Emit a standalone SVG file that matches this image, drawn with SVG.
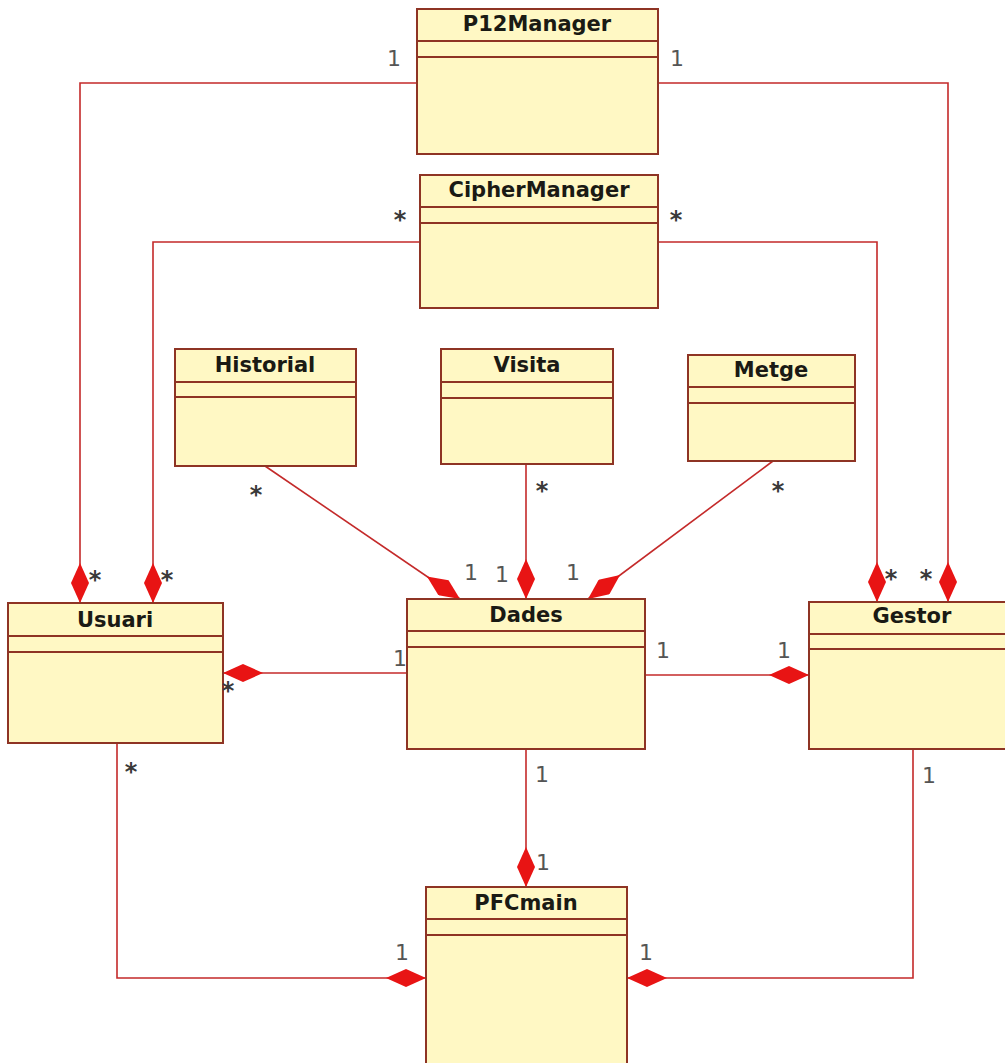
<svg xmlns="http://www.w3.org/2000/svg" width="1005" height="1063" viewBox="0 0 1005 1063">
<style>
.box{fill:#fff8c4;stroke:#8e3424;stroke-width:2}
.sep{stroke:#8e3424;stroke-width:2}
.title{font-family:"DejaVu Sans",sans-serif;font-weight:bold;font-size:21px;fill:#1a1a14;text-anchor:middle}
.conn{fill:none;stroke:#c42a2a;stroke-width:1.6;marker-end:url(#dia)}
.m{font-family:"DejaVu Sans",sans-serif;font-size:22px;fill:#555;text-anchor:middle}
.s{font-family:"DejaVu Sans",sans-serif;font-size:24px;font-weight:bold;fill:#3a3a3a;text-anchor:middle}
</style>
<defs>
<marker id="dia" viewBox="0 0 40 18" refX="40" refY="9" markerWidth="40" markerHeight="18" markerUnits="userSpaceOnUse" orient="auto">
<path d="M0,9 L20,0 L40,9 L20,18 Z" fill="#e81414"/>
</marker>
</defs>
<rect width="1005" height="1063" fill="#ffffff"/>
<g id="connectors">
<path class="conn" d="M417,83 H80 V603"/>
<path class="conn" d="M658,83 H948 V602"/>
<path class="conn" d="M420,242 H153 V603"/>
<path class="conn" d="M658,242 H877 V602"/>
<path class="conn" d="M265,466 L460,599"/>
<path class="conn" d="M526,464 V599"/>
<path class="conn" d="M773,461 L588,599"/>
<path class="conn" d="M407,673 H223"/>
<path class="conn" d="M645,675 H809"/>
<path class="conn" d="M526,749 V887"/>
<path class="conn" d="M117,743 V978 H426"/>
<path class="conn" d="M913,749 V978 H627"/>
</g>
<g id="P12Manager">
<rect class="box" x="417" y="9" width="241" height="145"/>
<line class="sep" x1="417" y1="41" x2="658" y2="41"/>
<line class="sep" x1="417" y1="57" x2="658" y2="57"/>
<text class="title" x="537" y="31">P12Manager</text>
</g>
<g id="CipherManager">
<rect class="box" x="420" y="175" width="238" height="133"/>
<line class="sep" x1="420" y1="207" x2="658" y2="207"/>
<line class="sep" x1="420" y1="223" x2="658" y2="223"/>
<text class="title" x="539" y="197">CipherManager</text>
</g>
<g id="Historial">
<rect class="box" x="175" y="349" width="181" height="117"/>
<line class="sep" x1="175" y1="382" x2="356" y2="382"/>
<line class="sep" x1="175" y1="397" x2="356" y2="397"/>
<text class="title" x="265" y="372">Historial</text>
</g>
<g id="Visita">
<rect class="box" x="441" y="349" width="172" height="115"/>
<line class="sep" x1="441" y1="382" x2="613" y2="382"/>
<line class="sep" x1="441" y1="398" x2="613" y2="398"/>
<text class="title" x="527" y="372">Visita</text>
</g>
<g id="Metge">
<rect class="box" x="688" y="355" width="167" height="106"/>
<line class="sep" x1="688" y1="387" x2="855" y2="387"/>
<line class="sep" x1="688" y1="403" x2="855" y2="403"/>
<text class="title" x="771" y="377">Metge</text>
</g>
<g id="Usuari">
<rect class="box" x="8" y="603" width="215" height="140"/>
<line class="sep" x1="8" y1="636" x2="223" y2="636"/>
<line class="sep" x1="8" y1="652" x2="223" y2="652"/>
<text class="title" x="115" y="627">Usuari</text>
</g>
<g id="Dades">
<rect class="box" x="407" y="599" width="238" height="150"/>
<line class="sep" x1="407" y1="631" x2="645" y2="631"/>
<line class="sep" x1="407" y1="647" x2="645" y2="647"/>
<text class="title" x="526" y="622">Dades</text>
</g>
<g id="Gestor">
<rect class="box" x="809" y="602" width="200" height="147"/>
<line class="sep" x1="809" y1="634" x2="1009" y2="634"/>
<line class="sep" x1="809" y1="649" x2="1009" y2="649"/>
<text class="title" x="912" y="623">Gestor</text>
</g>
<g id="PFCmain">
<rect class="box" x="426" y="887" width="201" height="190"/>
<line class="sep" x1="426" y1="919" x2="627" y2="919"/>
<line class="sep" x1="426" y1="935" x2="627" y2="935"/>
<text class="title" x="526" y="910">PFCmain</text>
</g>
<g id="labels">
<text class="m" x="394" y="66">1</text>
<text class="m" x="677" y="66">1</text>
<text class="s" x="400" y="228">*</text>
<text class="s" x="676" y="228">*</text>
<text class="s" x="256" y="503">*</text>
<text class="s" x="542" y="499">*</text>
<text class="s" x="778" y="499">*</text>
<text class="m" x="471" y="580">1</text>
<text class="m" x="502" y="582">1</text>
<text class="m" x="573" y="580">1</text>
<text class="s" x="95" y="588">*</text>
<text class="s" x="167" y="588">*</text>
<text class="s" x="228" y="699">*</text>
<text class="m" x="400" y="666">1</text>
<text class="m" x="663" y="658">1</text>
<text class="m" x="784" y="658">1</text>
<text class="s" x="891" y="587">*</text>
<text class="s" x="926" y="587">*</text>
<text class="m" x="542" y="782">1</text>
<text class="m" x="543" y="870">1</text>
<text class="m" x="402" y="960">1</text>
<text class="m" x="646" y="960">1</text>
<text class="s" x="131" y="780">*</text>
<text class="m" x="929" y="783">1</text>
</g>
</svg>
